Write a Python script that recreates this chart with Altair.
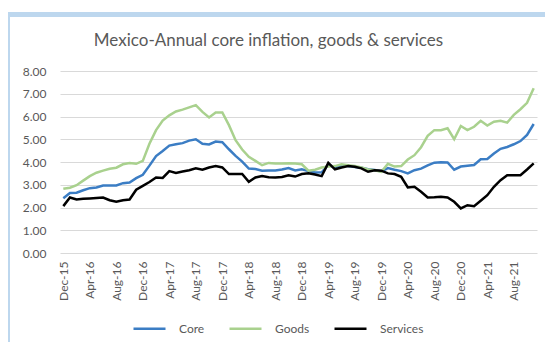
import altair as alt
import pandas as pd

tick_labels = ["Dec-15", "Apr-16", "Aug-16", "Dec-16", "Apr-17", "Aug-17", "Dec-17",
               "Apr-18", "Aug-18", "Dec-18", "Apr-19", "Aug-19", "Dec-19", "Apr-20",
               "Aug-20", "Dec-20", "Apr-21", "Aug-21"]

series_names = ["Core", "Goods", "Services"]

core = [2.41, 2.64, 2.65, 2.76, 2.85, 2.88, 2.97, 2.97, 2.97, 3.07, 3.10, 3.29,
        3.44, 3.84, 4.26, 4.48, 4.72, 4.78, 4.83, 4.94, 5.00, 4.80, 4.77, 4.90,
        4.87, 4.56, 4.27, 4.02, 3.71, 3.69, 3.62, 3.63, 3.63, 3.67, 3.73, 3.63,
        3.68, 3.60, 3.54, 3.55, 3.87, 3.77, 3.85, 3.82, 3.78, 3.75, 3.68, 3.65,
        3.59, 3.73, 3.66, 3.60, 3.50, 3.64, 3.71, 3.85, 3.97, 3.99, 3.98, 3.66,
        3.80, 3.84, 3.87, 4.12, 4.13, 4.37, 4.58, 4.66, 4.78, 4.92, 5.19, 5.67]

goods = [2.82, 2.87, 2.98, 3.18, 3.38, 3.53, 3.62, 3.70, 3.75, 3.90, 3.96, 3.92,
         4.05, 4.80, 5.40, 5.82, 6.05, 6.22, 6.30, 6.40, 6.50, 6.20, 5.96, 6.18,
         6.18, 5.62, 4.96, 4.55, 4.23, 4.05, 3.86, 3.96, 3.93, 3.93, 3.95, 3.93,
         3.90, 3.62, 3.66, 3.76, 3.80, 3.82, 3.90, 3.86, 3.82, 3.76, 3.67, 3.64,
         3.57, 3.92, 3.80, 3.82, 4.11, 4.30, 4.65, 5.15, 5.40, 5.40, 5.48, 5.00,
         5.58, 5.40, 5.55, 5.81, 5.60, 5.77, 5.81, 5.73, 6.07, 6.32, 6.60, 7.24]

services = [2.06, 2.44, 2.35, 2.38, 2.40, 2.42, 2.44, 2.32, 2.25, 2.32, 2.35, 2.78,
            2.95, 3.12, 3.32, 3.30, 3.60, 3.52, 3.58, 3.64, 3.72, 3.66, 3.76, 3.82,
            3.76, 3.47, 3.47, 3.47, 3.13, 3.32, 3.38, 3.33, 3.32, 3.34, 3.42, 3.36,
            3.47, 3.50, 3.45, 3.38, 3.96, 3.68, 3.76, 3.82, 3.79, 3.72, 3.57, 3.64,
            3.62, 3.50, 3.47, 3.35, 2.88, 2.91, 2.69, 2.44, 2.45, 2.47, 2.44, 2.25,
            1.96, 2.10, 2.06, 2.30, 2.54, 2.91, 3.20, 3.42, 3.42, 3.42, 3.67, 3.94]

colors = ["#3B7DC4", "#A9D18E", "#000000"]

rows = []
for name, vals in zip(series_names, [core, goods, services]):
    for i, v in enumerate(vals):
        rows.append({"m": i, "value": v, "series": name})
df = pd.DataFrame(rows)

label_array = "[" + ",".join("'" + t + "'" for t in tick_labels) + "]"

FONT = "Lato"
GREY = "#595959"

lines = alt.Chart(df).mark_line(strokeWidth=2.5).encode(
    x=alt.X("m:Q",
            scale=alt.Scale(domain=[-0.5, 71.5], nice=False, zero=False),
            axis=alt.Axis(values=list(range(0, 72, 4)),
                          labelExpr=label_array + "[round(datum.value/4)]",
                          labelAngle=-90, labelAlign="right", labelBaseline="middle",
                          grid=False, domain=False, ticks=False, labelPadding=8,
                          title=None, labelFontSize=12, labelColor=GREY, labelFont=FONT)),
    y=alt.Y("value:Q",
            scale=alt.Scale(domain=[0, 8], nice=False),
            axis=alt.Axis(values=[0, 1, 2, 3, 4, 5, 6, 7, 8], format=".2f",
                          grid=True, gridColor="#D9D9D9", gridWidth=1,
                          domain=False, ticks=False, labelPadding=14, title=None,
                          labelFontSize=12, labelColor=GREY, labelFont=FONT)),
    color=alt.Color("series:N",
                    scale=alt.Scale(domain=series_names, range=colors),
                    legend=alt.Legend(orient="none", legendX=72, legendY=240,
                                      direction="horizontal", title=None,
                                      symbolType="stroke", symbolSize=1024,
                                      symbolStrokeWidth=2.5, labelOffset=12,
                                      columnPadding=19, padding=0,
                                      labelFontSize=12, labelColor=GREY, labelFont=FONT)),
)

one = pd.DataFrame({"a": [0]})
top_band = alt.Chart(one).mark_rect(color="#BDD7EE").encode(
    x=alt.value(-52), x2=alt.value(485), y=alt.value(-59), y2=alt.value(-54))
left_band = alt.Chart(one).mark_rect(color="#BDD7EE").encode(
    x=alt.value(-52), x2=alt.value(-50), y=alt.value(-59), y2=alt.value(271))

chart = alt.layer(top_band, left_band, lines).properties(
    width=477, height=182,
    autosize=alt.AutoSizeParams(type="none"),
    padding={"left": 52, "top": 63, "right": 8, "bottom": 89},
    title=alt.TitleParams("Mexico-Annual core inflation, goods & services",
                          fontSize=17, font=FONT, fontWeight="normal", color=GREY,
                          anchor="middle", dx=-30, offset=-51, baseline="alphabetic"),
).configure_view(strokeWidth=0)

chart.save("out.html", embed_options={"renderer": "svg", "actions": False})
